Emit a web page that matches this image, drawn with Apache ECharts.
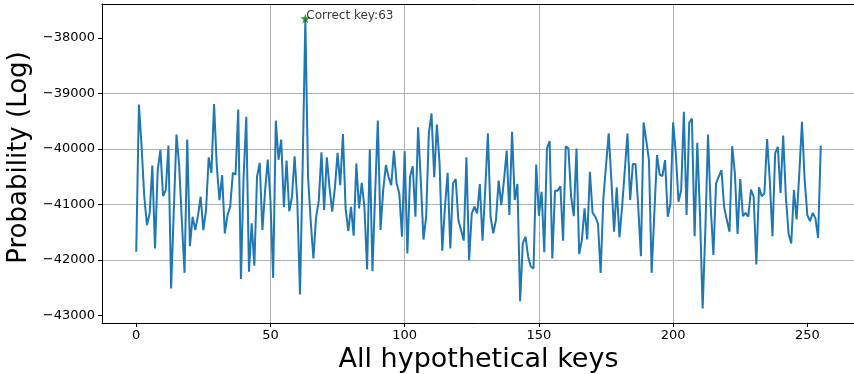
<!DOCTYPE html>
<html>
<head>
<meta charset="utf-8">
<script src="https://cdn.jsdelivr.net/npm/echarts@6/dist/echarts.min.js"></script>
<style>
  html, body { margin: 0; padding: 0; background: #fff; }
  #chart { width: 854px; height: 374px; }
</style>
</head>
<body>
<div id="chart"></div>
<script>
// log probability for each of the 256 key guesses
var probs = [
  -41850, -39200, -39960, -40860, -41370, -41160, -40300, -41790, -40380, -40020, -40850, -40740, -39940, -42510, -41100, -39740,
  -40300, -41300, -42230, -39830, -41750, -41220, -41460, -41200, -40860, -41460, -41100, -40150, -40430, -39190, -40300, -40920,
  -40470, -41520, -41190, -41040, -40430, -40460, -39290, -42340, -40500, -39420, -42210, -41340, -42100, -40500, -40250, -41460,
  -40750, -40190, -40930, -42320, -39490, -40195, -39830, -41050, -40210, -41120, -40870, -40130, -40930, -42620, -40300, -37650,
  -40500, -41300, -41970, -41230, -40930, -40060, -41100, -40150, -40690, -41130, -40700, -40070, -40650, -39730, -41070, -41480,
  -41040, -41560, -40260, -41070, -40610, -41040, -42170, -40010, -42200, -40800, -39490, -41460, -40740, -40290, -40500, -40650,
  -40030, -40620, -40800, -41580, -40040, -41880, -40500, -40310, -41220, -39610, -40560, -41630, -41220, -39720, -39360, -40510,
  -39560, -40260, -41830, -41040, -40430, -41790, -40620, -40540, -41280, -41460, -41650, -40150, -42000, -41160, -41040, -41160,
  -40630, -41650, -40740, -39720, -41220, -41520, -41280, -40570, -41010, -40560, -40030, -41190, -39690, -40920, -40630, -42740,
  -41700, -41580, -41940, -42120, -42150, -40280, -41200, -40770, -41860, -39990, -39860, -41970, -40750, -40750, -40670, -41650,
  -39950, -39990, -40860, -41210, -39990, -41890, -41640, -41070, -41630, -40410, -41150, -41220, -41340, -42230, -40900, -40300,
  -39720, -40560, -41490, -40690, -41590, -41040, -40380, -39720, -40920, -40270, -40270, -41040, -41930, -39520, -39850, -40200,
  -42230, -41160, -40110, -40460, -40490, -40200, -41220, -40980, -39520, -40080, -40950, -40740, -39330, -41190, -39530, -39450,
  -41570, -39890, -41160, -42870, -41460, -39740, -41040, -41910, -40620, -40500, -40380, -41040, -41280, -41490, -39950, -40440,
  -41530, -40540, -41210, -41150, -41220, -40730, -40860, -42080, -40690, -40850, -40800, -39820, -40560, -41570, -40080, -39960,
  -40790, -39760, -40860, -41520, -41700, -40740, -41270, -40440, -39510, -40560, -41190, -41300, -41150, -41250, -41600, -39940
];
var correctKey = 63;
var xTicks = [0, 50, 100, 150, 200, 250];
var yTicks = [-43000, -42000, -41000, -40000, -39000, -38000];

var lineData = probs.map(function (v, i) { return [i, v]; });
var font = 'DejaVu Sans';
var star = 'path://M50,0 L61,35 L98,35 L68,57 L79,91 L50,70 L21,91 L32,57 L2,35 L39,35 Z';

var chart = echarts.init(document.getElementById('chart'));
chart.setOption({
    animation: false,
    grid: {
        left: 102,
        right: -1,
        top: 4,
        bottom: 51,
        outerBoundsMode: 'none'
    },
    xAxis: [
        {
            type: 'value',
            min: -12.75,
            max: 267.75,
            name: 'All hypothetical keys',
            nameLocation: 'middle',
            nameGap: 20,
            nameTextStyle: { fontFamily: font, fontSize: 27, color: '#000' },
            axisLine: { show: true, onZero: false, lineStyle: { color: '#000', width: 1 } },
            axisTick: { show: true, length: 4, customValues: xTicks, lineStyle: { color: '#000' } },
            axisLabel: { customValues: xTicks, fontFamily: font, fontSize: 13, color: '#000', margin: 6 },
            splitLine: { show: true, showMinLine: false, showMaxLine: false, lineStyle: { color: '#b0b0b0', width: 1 } }
        },
        {
            // top spine only
            type: 'value',
            position: 'top',
            min: -12.75,
            max: 267.75,
            axisLine: { show: true, onZero: false, lineStyle: { color: '#000', width: 1 } },
            axisTick: { show: false },
            axisLabel: { show: false },
            splitLine: { show: false }
        }
    ],
    yAxis: {
        type: 'value',
        min: -43133,
        max: -37390,
        name: 'Probability (Log)',
        nameLocation: 'middle',
        nameGap: 67,
        nameTextStyle: { fontFamily: font, fontSize: 26, color: '#000', padding: [0, 0, 0, 12] },
        axisLine: { show: true, onZero: false, lineStyle: { color: '#000', width: 1 } },
        axisTick: { show: true, length: 4, customValues: yTicks, lineStyle: { color: '#000' } },
        axisLabel: {
            customValues: yTicks,
            fontFamily: font,
            fontSize: 13,
            color: '#000',
            margin: 7,
            formatter: function (v) { return String(v).replace('-', '\u2212'); }
        },
        splitLine: { show: true, showMinLine: false, showMaxLine: false, lineStyle: { color: '#b0b0b0', width: 1 } }
    },
    series: [
        {
            type: 'line',
            data: lineData,
            symbol: 'none',
            lineStyle: { color: '#1f77b4', width: 2 },
            z: 2
        },
        {
            type: 'scatter',
            data: [[correctKey, probs[correctKey]]],
            symbol: star,
            symbolSize: 10,
            itemStyle: { color: '#008000' },
            label: {
                show: true,
                formatter: 'Correct key:' + correctKey,
                position: [6, 8],
                align: 'left',
                verticalAlign: 'bottom',
                fontFamily: font,
                fontSize: 12,
                color: '#000'
            },
            z: 3
        }
    ]
});
</script>
</body>
</html>
